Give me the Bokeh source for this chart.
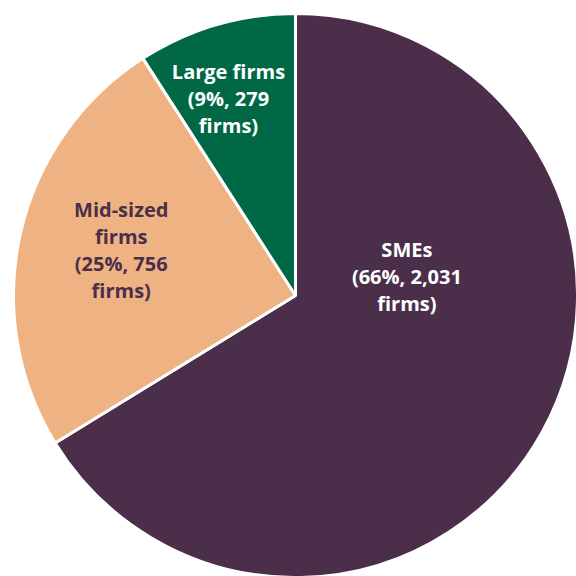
import math
from bokeh.plotting import figure
from bokeh.models import ColumnDataSource
from bokeh.core.properties import value
from bokeh.embed import file_html
from bokeh.resources import INLINE

# ---- data ----
categories = ["SMEs", "Mid-sized firms", "Large firms"]
firms = [2031, 756, 279]
shares = [66, 25, 9]
colors = ["#4B2F4A", "#EFB383", "#016846"]
text_colors = ["#FFFFFF", "#4B2F4A", "#FFFFFF"]
labels = [
    "SMEs\n(66%, 2,031\nfirms)",
    "Mid-sized\nfirms\n(25%, 756\nfirms)",
    "Large firms\n(9%, 279\nfirms)",
]
# label placement (polar: distance from centre, angle in degrees)
label_dist = [113, 180, 208]
label_ang = [9.7, 165.5, 108.8]

# ---- geometry ----
R = 282
total = sum(firms)
starts, ends = [], []
a = math.pi / 2
for f in firms:
    sweep = 2 * math.pi * f / total
    starts.append(a)
    ends.append(a - sweep)
    a -= sweep

src = ColumnDataSource(dict(cat=categories, start=starts, end=ends, color=colors))

lx = [d * math.cos(math.radians(t)) for d, t in zip(label_dist, label_ang)]
ly = [d * math.sin(math.radians(t)) for d, t in zip(label_dist, label_ang)]
lsrc = ColumnDataSource(dict(x=lx, y=ly, text=labels, tc=text_colors))

W = H = 576
p = figure(width=W, height=H, x_range=(-295, 281), y_range=(-281, 295),
           output_backend="svg", toolbar_location=None, min_border=0)
p.axis.visible = False
p.grid.visible = False
p.outline_line_color = None
p.background_fill_color = "white"

p.wedge(x=0, y=0, radius=R, start_angle="start", end_angle="end",
        direction="clock", fill_color="color", line_color="white",
        line_width=3, source=src)

p.text(x="x", y="y", text="text", source=lsrc, text_color="tc",
       text_font=value("Open Sans"), text_font_style="bold", text_font_size="20px",
       text_align="center", text_baseline="middle", text_line_height=1.0)

open("out.html", "w").write(file_html(p, INLINE))
